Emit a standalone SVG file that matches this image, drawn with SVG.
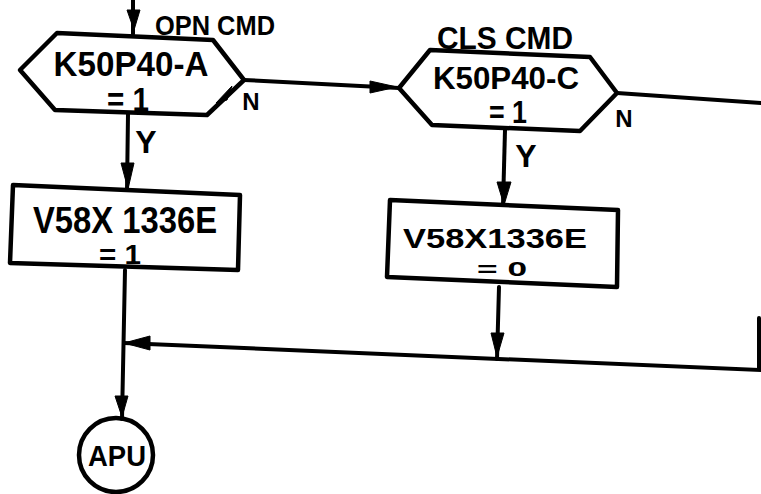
<svg xmlns="http://www.w3.org/2000/svg" width="761" height="494" viewBox="0 0 761 494">
<style>
.sh{fill:none;stroke:#000;stroke-width:4.5;stroke-linejoin:round}
.ln{fill:none;stroke:#000;stroke-width:4;stroke-linecap:round}
.ah{fill:#000;stroke:#000;stroke-width:1;stroke-linejoin:round}
.t{font-family:"Liberation Sans",Arial,sans-serif;font-weight:bold;fill:#000}
</style>
<rect width="761" height="494" fill="#fff"/>
<g id="connectors">
<path class="ln" d="M133,0 L133,34"/>
<polygon class="ah" points="127,10 140,10 134,30"/>
<path class="ln" d="M244,80 L399,88"/>
<polygon class="ah" points="370,81 397,87 370,93"/>
<path class="ln" d="M617,93 L761,103"/>
<path class="ln" d="M128,114 L127,190"/>
<polygon class="ah" points="121,163 134,163 128,189"/>
<path class="ln" d="M505,130 L503,205"/>
<polygon class="ah" points="497,182 511,182 504,205"/>
<path class="ln" d="M125,270 L122,419"/>
<polygon class="ah" points="115,396 128,396 122,417"/>
<path class="ln" d="M499,287 L497,359"/>
<polygon class="ah" points="491,333 504,333 497,357"/>
<path class="ln" d="M759,318 L759,370 L124,343"/>
<polygon class="ah" points="124,343 150,336 150,350"/>
<polygon class="ah" points="216,103 232,86 227,100"/>
</g>
<g id="hex1">
<polygon class="sh" points="20,70 57,33 213,40 244,80 207,115 55,110"/>
<text class="t" x="215" y="35" font-size="28" text-anchor="middle" textLength="120" lengthAdjust="spacingAndGlyphs">OPN CMD</text>
<text class="t" x="131" y="76" font-size="35" text-anchor="middle" textLength="155" lengthAdjust="spacingAndGlyphs">K50P40-A</text>
<text class="t" x="128" y="111" font-size="33" text-anchor="middle" textLength="42" lengthAdjust="spacingAndGlyphs">= 1</text>
<text class="t" x="251" y="110" font-size="24" text-anchor="middle">N</text>
<text class="t" x="146" y="153" font-size="32" text-anchor="middle">Y</text>
</g>
<g id="hex2">
<polygon class="sh" points="399,88 430,50 590,57 617,93 580,131 432,125"/>
<text class="t" x="505" y="49" font-size="31" text-anchor="middle" textLength="136" lengthAdjust="spacingAndGlyphs">CLS CMD</text>
<text class="t" x="506" y="89" font-size="32" text-anchor="middle" textLength="146" lengthAdjust="spacingAndGlyphs">K50P40-C</text>
<text class="t" x="508" y="123" font-size="32" text-anchor="middle" textLength="38" lengthAdjust="spacingAndGlyphs">= 1</text>
<text class="t" x="624" y="127" font-size="24" text-anchor="middle">N</text>
<text class="t" x="526" y="167" font-size="32" text-anchor="middle">Y</text>
</g>
<g id="box1">
<polygon class="sh" points="13,185 240,195 238,270 10,263"/>
<text class="t" x="125" y="233" font-size="37" text-anchor="middle" textLength="184" lengthAdjust="spacingAndGlyphs">V58X 1336E</text>
<text class="t" x="120" y="264" font-size="27" text-anchor="middle" textLength="42" lengthAdjust="spacingAndGlyphs">= 1</text>
</g>
<g id="box2">
<polygon class="sh" points="390,200 618,210 617,287 387,277"/>
<text class="t" x="495" y="248" font-size="28" text-anchor="middle" textLength="184" lengthAdjust="spacingAndGlyphs">V58X1336E</text>
<text class="t" x="502" y="276" font-size="21" text-anchor="middle" textLength="50" lengthAdjust="spacingAndGlyphs">= 0</text>
</g>
<g id="apu">
<circle class="sh" cx="116" cy="455" r="37"/>
<text class="t" x="117" y="466" font-size="29" text-anchor="middle" textLength="58" lengthAdjust="spacingAndGlyphs">APU</text>
</g>
</svg>
